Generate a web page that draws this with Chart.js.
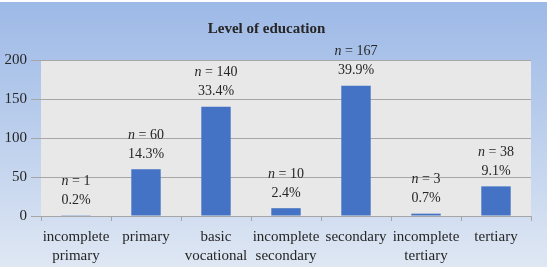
<!DOCTYPE html>
<html>
<head>
<meta charset="utf-8">
<script src="https://cdn.jsdelivr.net/npm/chart.js@4"></script>
<style>
    html, body { margin: 0; padding: 0; background: #fff; }
    #bg {
        position: absolute; left: 0; top: 2px; width: 547px; height: 265px;
        background: linear-gradient(to bottom, #9db9e7 0%, #b9cdec 45%, #dfe7f3 100%);
    }
    #wrap { position: absolute; left: 0; top: 0; width: 550px; height: 268px; }
</style>
</head>
<body>
<div id="bg"></div>
<div id="wrap"><canvas id="eduChart" width="550" height="268"></canvas></div>
<script>
// Data
const categories = [
    ['incomplete', 'primary'],
    'primary',
    ['basic', 'vocational'],
    ['incomplete', 'secondary'],
    'secondary',
    ['incomplete', 'tertiary'],
    'tertiary'
];
const counts = [1, 60, 140, 10, 167, 3, 38];
const percents = ['0.2%', '14.3%', '33.4%', '2.4%', '39.9%', '0.7%', '9.1%'];
const yTicks = [0, 50, 100, 150, 200];

const textColor = '#262626';
const gridColor = '#a6a6a6';
const serif = "'Liberation Serif', 'Times New Roman', serif";

// grey plot area
const plotBg = {
    id: 'plotBg',
    beforeDraw(chart) {
        const { ctx, chartArea: a } = chart;
        ctx.save();
        ctx.fillStyle = '#e8e8e8';
        ctx.fillRect(a.left, a.top, a.right - a.left, a.bottom - a.top);
        ctx.restore();
    }
};

// "n = x" and percent over each bar
const barLabels = {
    id: 'barLabels',
    afterDatasetsDraw(chart) {
        const ctx = chart.ctx;
        const meta = chart.getDatasetMeta(0);
        ctx.save();
        ctx.fillStyle = textColor;
        ctx.textBaseline = 'middle';
        meta.data.forEach((bar, i) => {
            const x = bar.x;
            const yPct = bar.y - 15;
            const yN = yPct - 19;
            ctx.font = '14px ' + serif;
            ctx.textAlign = 'center';
            ctx.fillText(percents[i], x, yPct);

            const rest = ' = ' + counts[i];
            ctx.font = 'italic 14px ' + serif;
            const wN = ctx.measureText('n').width;
            ctx.font = '14px ' + serif;
            const wRest = ctx.measureText(rest).width;
            const start = x - (wN + wRest) / 2;
            ctx.textAlign = 'left';
            ctx.font = 'italic 14px ' + serif;
            ctx.fillText('n', start, yN);
            ctx.font = '14px ' + serif;
            ctx.fillText(rest, start + wN, yN);
        });
        ctx.restore();
    }
};

new Chart(document.getElementById('eduChart').getContext('2d'), {
    type: 'bar',
    data: {
        labels: categories,
        datasets: [{
            data: counts,
            backgroundColor: '#4472c4',
            borderWidth: 0,
            barPercentage: 0.42,
            categoryPercentage: 1
        }]
    },
    options: {
        responsive: false,
        animation: false,
        layout: { padding: { left: 2, right: 19, top: 0, bottom: 0 } },
        plugins: {
            legend: { display: false },
            tooltip: { enabled: false },
            title: {
                display: true,
                text: 'Level of education',
                color: textColor,
                font: { family: serif, size: 15, weight: 'bold' },
                padding: { top: 20, bottom: 22 }
            }
        },
        scales: {
            x: {
                afterFit(scale) { scale.height = 52; },
                grid: {
                    offset: true,
                    drawOnChartArea: false,
                    drawTicks: true,
                    tickLength: 5,
                    color: gridColor
                },
                border: { display: true, color: gridColor },
                ticks: {
                    color: textColor,
                    font: { family: serif, size: 15, lineHeight: 1.3 },
                    padding: 6,
                    maxRotation: 0,
                    minRotation: 0,
                    autoSkip: false
                }
            },
            y: {
                min: yTicks[0],
                max: yTicks[yTicks.length - 1],
                afterBuildTicks(scale) {
                    scale.ticks = yTicks.map(v => ({ value: v }));
                },
                afterFit(scale) { scale.width = 39; },
                grid: { color: gridColor, tickLength: 10 },
                border: { display: false },
                ticks: {
                    color: textColor,
                    font: { family: serif, size: 15 },
                    padding: 4
                }
            }
        }
    },
    plugins: [plotBg, barLabels]
});
</script>
</body>
</html>
